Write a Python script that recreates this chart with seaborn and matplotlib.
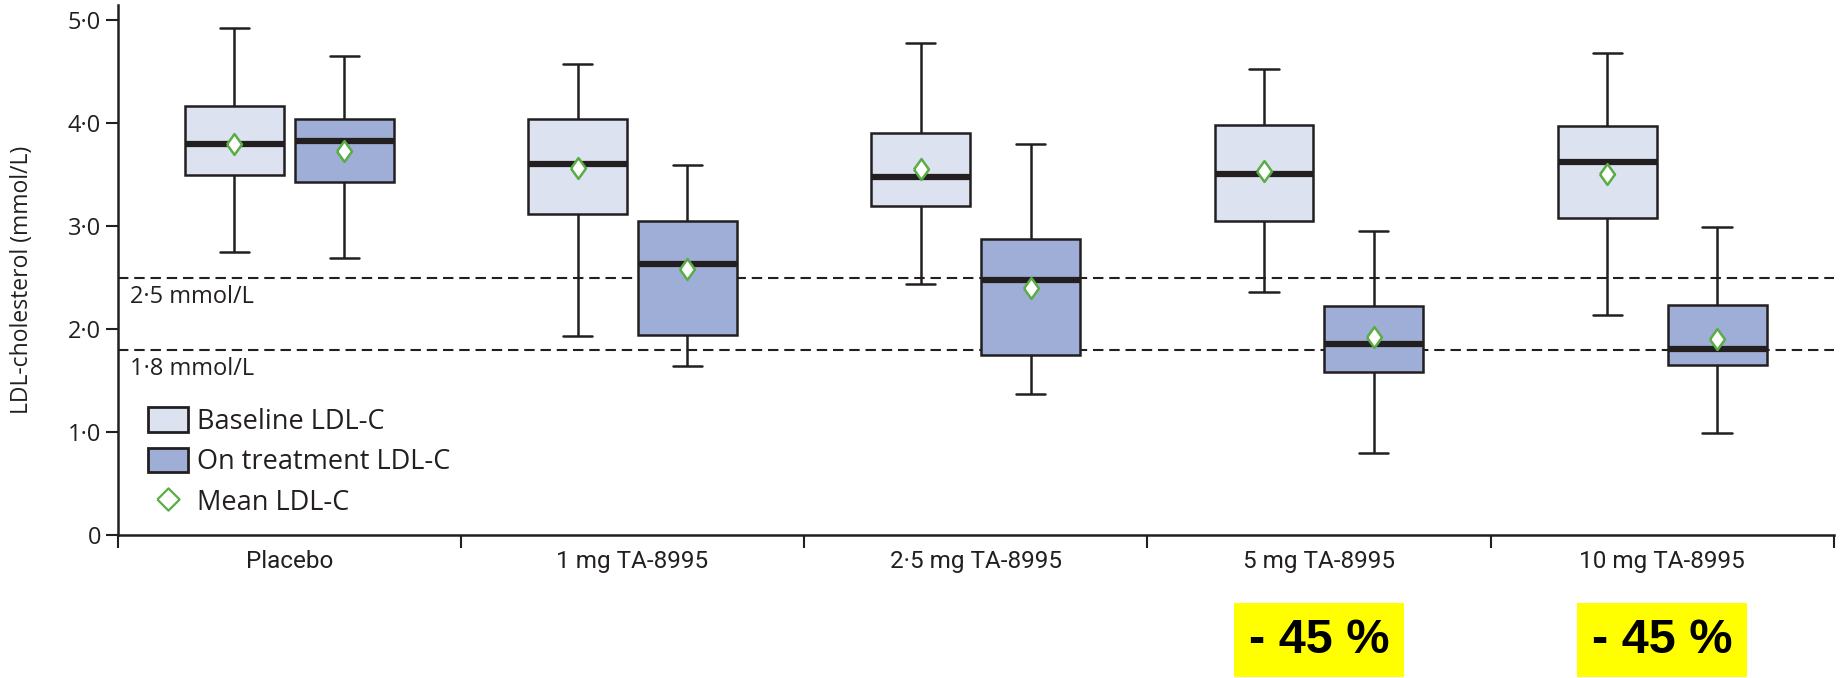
import numpy as np
import pandas as pd
import seaborn as sns
import matplotlib.pyplot as plt
from matplotlib import font_manager
from matplotlib.patches import Patch
from matplotlib.lines import Line2D
from matplotlib.path import Path
from matplotlib.transforms import blended_transform_factory

# categories and series
groups = ["Placebo", "1 mg TA-8995", "2·5 mg TA-8995", "5 mg TA-8995", "10 mg TA-8995"]
series = ["Baseline LDL-C", "On treatment LDL-C"]

# box summary (mmol/L): whisker low, Q1, median, Q3, whisker high, mean
base_low = [2.75, 1.93, 2.44, 2.36, 2.14]
base_q1 = [3.50, 3.12, 3.19, 3.05, 3.08]
base_med = [3.80, 3.60, 3.48, 3.51, 3.62]
base_q3 = [4.17, 4.04, 3.90, 3.98, 3.97]
base_high = [4.92, 4.57, 4.78, 4.52, 4.68]
base_mean = [3.80, 3.56, 3.55, 3.53, 3.51]

treat_low = [2.69, 1.64, 1.37, 0.80, 0.99]
treat_q1 = [3.43, 1.94, 1.75, 1.58, 1.65]
treat_med = [3.83, 2.63, 2.48, 1.85, 1.81]
treat_q3 = [4.04, 3.05, 2.87, 2.22, 2.23]
treat_high = [4.65, 3.59, 3.80, 2.95, 2.99]
treat_mean = [3.73, 2.58, 2.40, 1.92, 1.90]

# reference lines and labels
targets = [2.5, 1.8]
target_labels = ["2·5 mmol/L", "1·8 mmol/L"]
yticks = [0, 1, 2, 3, 4, 5]
ytick_labels = ["0", "1·0", "2·0", "3·0", "4·0", "5·0"]
reduction_groups = ["5 mg TA-8995", "10 mg TA-8995"]
reduction_labels = ["- 45 %", "- 45 %"]

ink = "#231f20"
light = "#dce2f0"
dark = "#9eaed6"
green = "#5aad45"

# five values per box -> seaborn quartiles/whiskers land exactly on them
rows = []
for name, stats in [(series[0], [base_low, base_q1, base_med, base_q3, base_high]),
                    (series[1], [treat_low, treat_q1, treat_med, treat_q3, treat_high])]:
    for i, g in enumerate(groups):
        for s in stats:
            rows.append({"group": g, "series": name, "ldl": s[i]})
box_df = pd.DataFrame(rows)
mean_df = pd.DataFrame({"group": groups * 2,
                        "series": [series[0]] * len(groups) + [series[1]] * len(groups),
                        "ldl": base_mean + treat_mean})

sns.set_style("ticks")
names = {f.name for f in font_manager.fontManager.ttflist}
narrow = "Liberation Sans Narrow" if "Liberation Sans Narrow" in names else "Roboto"
plt.rcParams["font.family"] = ["Open Sans", "DejaVu Sans"]
plt.rcParams["text.color"] = ink

fig = plt.figure(figsize=(18.43, 6.78), dpi=100)
ax = fig.add_axes([0.0638, 0.2109, 0.9312, 0.7817])

for v, lab in zip(targets, target_labels):
    ax.axhline(v, color=ink, lw=1.5, ls=(0, (5, 2.8)), zorder=0.5)
    ax.text(0.007, v - 0.07, lab, transform=blended_transform_factory(ax.transAxes, ax.transData),
            va="top", ha="left", fontsize=17, color=ink)

sns.boxplot(data=box_df, x="group", y="ldl", hue="series", order=groups, hue_order=series,
            palette=[light, dark], saturation=1, width=0.64, gap=0.1, whis=(0, 100),
            linewidth=1.8, linecolor=ink, showfliers=False, legend=False,
            medianprops={"linewidth": 4.5, "color": ink}, capwidths=0.085, ax=ax)

diamond = Path([(-0.72, 0), (0, 1), (0.72, 0), (0, -1), (-0.72, 0)])
sns.pointplot(data=mean_df, x="group", y="ldl", hue="series", order=groups, hue_order=series,
              palette=[green, green], dodge=0.32, markers=diamond, linestyles="none",
              errorbar=None, markersize=15, markerfacecolor="white", markeredgewidth=1.8,
              legend=False, zorder=5, ax=ax)

ax.set_xlim(-0.5, 4.5)
ax.set_ylim(0, 5.146)
ax.set_yticks(yticks, ytick_labels)
ax.set_xticks(range(len(groups)), groups)
ax.set_xticks(np.arange(-0.5, len(groups)), minor=True)
ax.tick_params(axis="x", which="major", length=0, pad=11, labelsize=17.5, labelcolor=ink)
ax.tick_params(axis="x", which="minor", length=9, width=1.5, color=ink)
ax.tick_params(axis="y", length=9, width=1.5, color=ink, labelsize=17, pad=3, labelcolor=ink)
for lbl in ax.get_xticklabels():
    lbl.set_family([narrow, "DejaVu Sans"])
sns.despine(ax=ax)
for side in ["left", "bottom"]:
    ax.spines[side].set_linewidth(1.8)
    ax.spines[side].set_color(ink)
ax.set_xlabel("")
ax.set_ylabel("LDL-cholesterol (mmol/L)", fontsize=16.5, color=ink)
ax.yaxis.set_label_coords(-0.0487, 0.481)

leg_diamond = Path([(-1, 0), (0, 1), (1, 0), (0, -1), (-1, 0)])
handles = [Patch(facecolor=light, edgecolor=ink, linewidth=2.0),
           Patch(facecolor=dark, edgecolor=ink, linewidth=2.0),
           Line2D([], [], marker=leg_diamond, linestyle="none", markersize=16,
                  markerfacecolor="white", markeredgecolor=green, markeredgewidth=1.6)]
ax.legend(handles, series + ["Mean LDL-C"], loc="upper left", bbox_to_anchor=(0.018, 0.241),
          frameon=False, fontsize=19.5, handlelength=1.45, handleheight=1.0,
          handletextpad=0.35, labelspacing=0.45, borderpad=0, borderaxespad=0)

# yellow reduction call-outs under the two top doses
trans = blended_transform_factory(ax.transData, fig.transFigure)
for g, txt in zip(reduction_groups, reduction_labels):
    ax.text(groups.index(g), 0.056, txt, transform=trans, ha="center", va="center",
            fontsize=35, fontweight="bold", family="Liberation Sans", color="black",
            bbox=dict(boxstyle="square,pad=0.3", facecolor="#ffff00", edgecolor="none"),
            clip_on=False)

fig.savefig("out.png", dpi=100)
